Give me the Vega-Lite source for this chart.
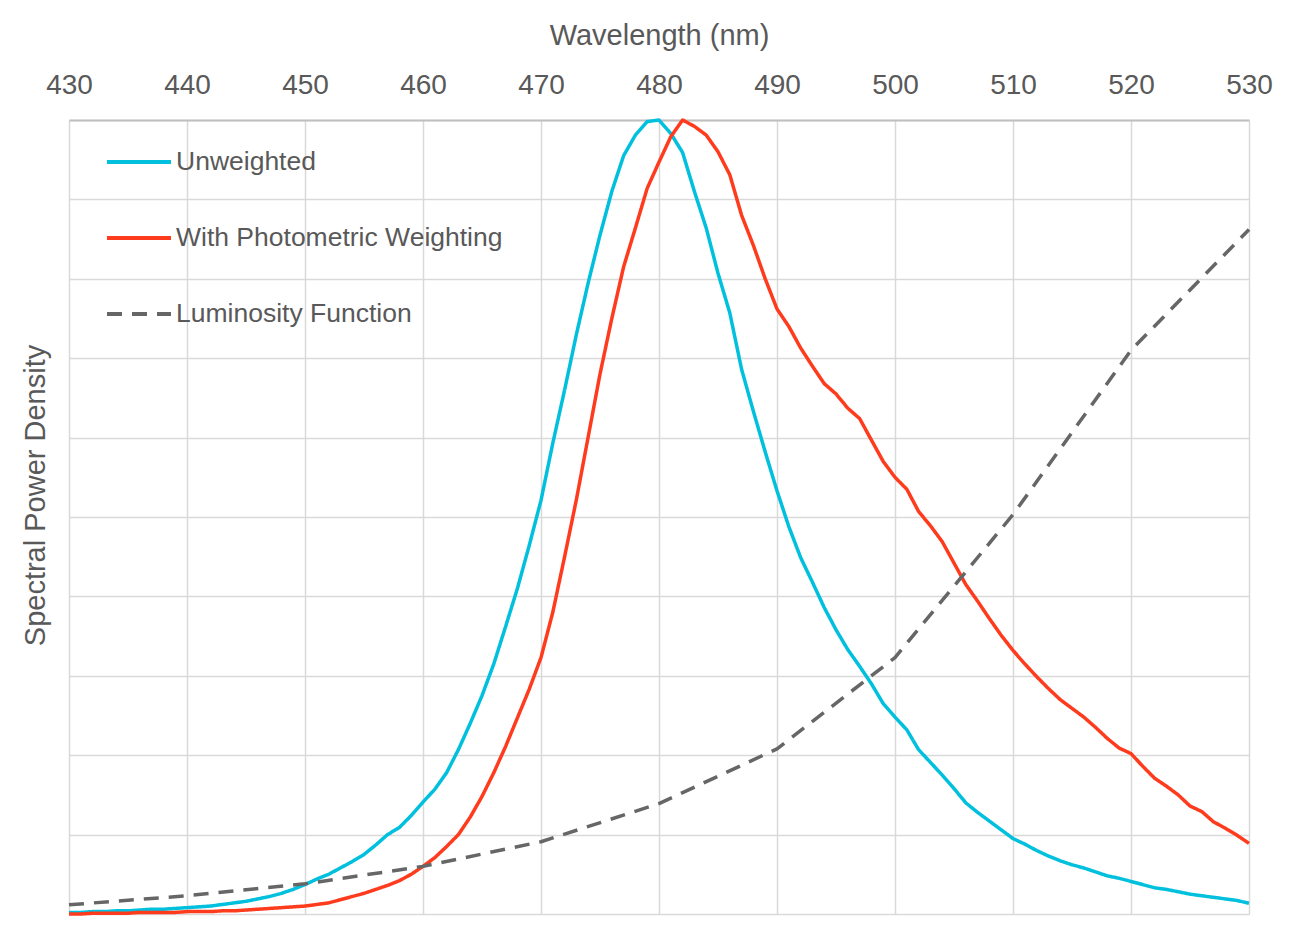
{
  "$schema": "https://vega.github.io/schema/vega-lite/v6.json",
  "width": 1180,
  "height": 794,
  "autosize": {"type": "none"},
  "padding": {"left": 69, "top": 120, "right": 44, "bottom": 19},
  "background": "white",
  "config": {
    "view": {"stroke": null},
    "font": "Liberation Sans",
    "axis": {
      "labelFont": "Liberation Sans",
      "titleFont": "Liberation Sans",
      "labelColor": "#595959",
      "titleColor": "#595959",
      "titleFontWeight": "normal",
      "gridColor": "#d9d9d9",
      "gridWidth": 1.5
    },
    "legend": {
      "labelFont": "Liberation Sans",
      "labelFontSize": 26.5,
      "labelColor": "#595959",
      "labelLimit": 0,
      "symbolType": "stroke",
      "symbolSize": 4096,
      "symbolStrokeWidth": 4,
      "labelOffset": 3,
      "rowPadding": 28,
      "padding": 0
    }
  },
  "datasets": {
    "spectra": [
      {"wl":430,"Unweighted":0.002,"With Photometric Weighting":0.000},
      {"wl":431,"Unweighted":0.002,"With Photometric Weighting":0.000},
      {"wl":432,"Unweighted":0.003,"With Photometric Weighting":0.001},
      {"wl":433,"Unweighted":0.003,"With Photometric Weighting":0.001},
      {"wl":434,"Unweighted":0.004,"With Photometric Weighting":0.001},
      {"wl":435,"Unweighted":0.004,"With Photometric Weighting":0.001},
      {"wl":436,"Unweighted":0.005,"With Photometric Weighting":0.002},
      {"wl":437,"Unweighted":0.006,"With Photometric Weighting":0.002},
      {"wl":438,"Unweighted":0.006,"With Photometric Weighting":0.002},
      {"wl":439,"Unweighted":0.007,"With Photometric Weighting":0.002},
      {"wl":440,"Unweighted":0.008,"With Photometric Weighting":0.003},
      {"wl":441,"Unweighted":0.009,"With Photometric Weighting":0.003},
      {"wl":442,"Unweighted":0.010,"With Photometric Weighting":0.003},
      {"wl":443,"Unweighted":0.012,"With Photometric Weighting":0.004},
      {"wl":444,"Unweighted":0.014,"With Photometric Weighting":0.004},
      {"wl":445,"Unweighted":0.016,"With Photometric Weighting":0.005},
      {"wl":446,"Unweighted":0.019,"With Photometric Weighting":0.006},
      {"wl":447,"Unweighted":0.022,"With Photometric Weighting":0.007},
      {"wl":448,"Unweighted":0.026,"With Photometric Weighting":0.008},
      {"wl":449,"Unweighted":0.031,"With Photometric Weighting":0.009},
      {"wl":450,"Unweighted":0.037,"With Photometric Weighting":0.010},
      {"wl":451,"Unweighted":0.044,"With Photometric Weighting":0.012},
      {"wl":452,"Unweighted":0.050,"With Photometric Weighting":0.014},
      {"wl":453,"Unweighted":0.058,"With Photometric Weighting":0.018},
      {"wl":454,"Unweighted":0.066,"With Photometric Weighting":0.022},
      {"wl":455,"Unweighted":0.075,"With Photometric Weighting":0.026},
      {"wl":456,"Unweighted":0.087,"With Photometric Weighting":0.031},
      {"wl":457,"Unweighted":0.100,"With Photometric Weighting":0.036},
      {"wl":458,"Unweighted":0.109,"With Photometric Weighting":0.042},
      {"wl":459,"Unweighted":0.124,"With Photometric Weighting":0.050},
      {"wl":460,"Unweighted":0.141,"With Photometric Weighting":0.060},
      {"wl":461,"Unweighted":0.157,"With Photometric Weighting":0.071},
      {"wl":462,"Unweighted":0.178,"With Photometric Weighting":0.085},
      {"wl":463,"Unweighted":0.207,"With Photometric Weighting":0.100},
      {"wl":464,"Unweighted":0.240,"With Photometric Weighting":0.122},
      {"wl":465,"Unweighted":0.275,"With Photometric Weighting":0.148},
      {"wl":466,"Unweighted":0.315,"With Photometric Weighting":0.178},
      {"wl":467,"Unweighted":0.362,"With Photometric Weighting":0.211},
      {"wl":468,"Unweighted":0.410,"With Photometric Weighting":0.247},
      {"wl":469,"Unweighted":0.464,"With Photometric Weighting":0.283},
      {"wl":470,"Unweighted":0.521,"With Photometric Weighting":0.323},
      {"wl":471,"Unweighted":0.593,"With Photometric Weighting":0.380},
      {"wl":472,"Unweighted":0.660,"With Photometric Weighting":0.450},
      {"wl":473,"Unweighted":0.730,"With Photometric Weighting":0.522},
      {"wl":474,"Unweighted":0.795,"With Photometric Weighting":0.601},
      {"wl":475,"Unweighted":0.855,"With Photometric Weighting":0.680},
      {"wl":476,"Unweighted":0.910,"With Photometric Weighting":0.750},
      {"wl":477,"Unweighted":0.955,"With Photometric Weighting":0.815},
      {"wl":478,"Unweighted":0.981,"With Photometric Weighting":0.864},
      {"wl":479,"Unweighted":0.998,"With Photometric Weighting":0.914},
      {"wl":480,"Unweighted":1.000,"With Photometric Weighting":0.947},
      {"wl":481,"Unweighted":0.983,"With Photometric Weighting":0.979},
      {"wl":482,"Unweighted":0.959,"With Photometric Weighting":1.000},
      {"wl":483,"Unweighted":0.910,"With Photometric Weighting":0.992},
      {"wl":484,"Unweighted":0.864,"With Photometric Weighting":0.981},
      {"wl":485,"Unweighted":0.807,"With Photometric Weighting":0.960},
      {"wl":486,"Unweighted":0.757,"With Photometric Weighting":0.931},
      {"wl":487,"Unweighted":0.686,"With Photometric Weighting":0.880},
      {"wl":488,"Unweighted":0.633,"With Photometric Weighting":0.842},
      {"wl":489,"Unweighted":0.582,"With Photometric Weighting":0.800},
      {"wl":490,"Unweighted":0.533,"With Photometric Weighting":0.762},
      {"wl":491,"Unweighted":0.488,"With Photometric Weighting":0.740},
      {"wl":492,"Unweighted":0.449,"With Photometric Weighting":0.713},
      {"wl":493,"Unweighted":0.418,"With Photometric Weighting":0.690},
      {"wl":494,"Unweighted":0.386,"With Photometric Weighting":0.668},
      {"wl":495,"Unweighted":0.358,"With Photometric Weighting":0.655},
      {"wl":496,"Unweighted":0.333,"With Photometric Weighting":0.637},
      {"wl":497,"Unweighted":0.312,"With Photometric Weighting":0.624},
      {"wl":498,"Unweighted":0.290,"With Photometric Weighting":0.597},
      {"wl":499,"Unweighted":0.265,"With Photometric Weighting":0.570},
      {"wl":500,"Unweighted":0.248,"With Photometric Weighting":0.550},
      {"wl":501,"Unweighted":0.232,"With Photometric Weighting":0.535},
      {"wl":502,"Unweighted":0.207,"With Photometric Weighting":0.507},
      {"wl":503,"Unweighted":0.191,"With Photometric Weighting":0.489},
      {"wl":504,"Unweighted":0.175,"With Photometric Weighting":0.469},
      {"wl":505,"Unweighted":0.158,"With Photometric Weighting":0.442},
      {"wl":506,"Unweighted":0.140,"With Photometric Weighting":0.415},
      {"wl":507,"Unweighted":0.128,"With Photometric Weighting":0.394},
      {"wl":508,"Unweighted":0.117,"With Photometric Weighting":0.372},
      {"wl":509,"Unweighted":0.106,"With Photometric Weighting":0.351},
      {"wl":510,"Unweighted":0.095,"With Photometric Weighting":0.332},
      {"wl":511,"Unweighted":0.088,"With Photometric Weighting":0.315},
      {"wl":512,"Unweighted":0.080,"With Photometric Weighting":0.299},
      {"wl":513,"Unweighted":0.073,"With Photometric Weighting":0.284},
      {"wl":514,"Unweighted":0.067,"With Photometric Weighting":0.270},
      {"wl":515,"Unweighted":0.062,"With Photometric Weighting":0.259},
      {"wl":516,"Unweighted":0.058,"With Photometric Weighting":0.248},
      {"wl":517,"Unweighted":0.053,"With Photometric Weighting":0.235},
      {"wl":518,"Unweighted":0.048,"With Photometric Weighting":0.221},
      {"wl":519,"Unweighted":0.045,"With Photometric Weighting":0.209},
      {"wl":520,"Unweighted":0.041,"With Photometric Weighting":0.202},
      {"wl":521,"Unweighted":0.037,"With Photometric Weighting":0.186},
      {"wl":522,"Unweighted":0.033,"With Photometric Weighting":0.171},
      {"wl":523,"Unweighted":0.031,"With Photometric Weighting":0.161},
      {"wl":524,"Unweighted":0.028,"With Photometric Weighting":0.150},
      {"wl":525,"Unweighted":0.025,"With Photometric Weighting":0.136},
      {"wl":526,"Unweighted":0.023,"With Photometric Weighting":0.129},
      {"wl":527,"Unweighted":0.021,"With Photometric Weighting":0.116},
      {"wl":528,"Unweighted":0.019,"With Photometric Weighting":0.108},
      {"wl":529,"Unweighted":0.017,"With Photometric Weighting":0.099},
      {"wl":530,"Unweighted":0.0135,"With Photometric Weighting":0.089}
    ],
    "luminosity": [
      {"wl":430,"series":"Luminosity Function","value":0.0116},
      {"wl":440,"series":"Luminosity Function","value":0.023},
      {"wl":450,"series":"Luminosity Function","value":0.038},
      {"wl":460,"series":"Luminosity Function","value":0.060},
      {"wl":470,"series":"Luminosity Function","value":0.091},
      {"wl":480,"series":"Luminosity Function","value":0.139},
      {"wl":490,"series":"Luminosity Function","value":0.208},
      {"wl":500,"series":"Luminosity Function","value":0.323},
      {"wl":510,"series":"Luminosity Function","value":0.503},
      {"wl":520,"series":"Luminosity Function","value":0.710},
      {"wl":530,"series":"Luminosity Function","value":0.862}
    ]
  },
  "encoding": {
    "x": {
      "field": "wl",
      "type": "quantitative",
      "scale": {"domain": [430, 530], "nice": false, "zero": false},
      "axis": {
        "orient": "top",
        "title": "Wavelength (nm)",
        "titleFontSize": 29,
        "titlePadding": 21,
        "labelFontSize": 28,
        "labelPadding": 21,
        "labelFlush": false,
        "labelOverlap": false,
        "values": [430, 440, 450, 460, 470, 480, 490, 500, 510, 520, 530],
        "ticks": false,
        "domain": true,
        "domainColor": "#bfbfbf",
        "domainWidth": 2
      }
    },
    "y": {
      "field": "value",
      "type": "quantitative",
      "scale": {"domain": [0, 1], "nice": false},
      "axis": {
        "title": "Spectral Power Density",
        "titleFontSize": 29,
        "titlePadding": 19,
        "titleY": 375,
        "labels": false,
        "ticks": false,
        "domain": false,
        "values": [0, 0.1, 0.2, 0.3, 0.4, 0.5, 0.6, 0.7, 0.8, 0.9, 1]
      }
    },
    "color": {
      "field": "series",
      "type": "nominal",
      "scale": {
        "domain": ["Unweighted", "With Photometric Weighting", "Luminosity Function"],
        "range": ["#00c0de", "#ff3b1e", "#666666"]
      },
      "legend": {"title": null, "orient": "none", "legendX": 36, "legendY": 8}
    },
    "strokeDash": {
      "field": "series",
      "type": "nominal",
      "scale": {
        "domain": ["Unweighted", "With Photometric Weighting", "Luminosity Function"],
        "range": [[1, 0], [1, 0], [15, 10]]
      },
      "legend": {"title": null, "orient": "none", "legendX": 36, "legendY": 8}
    }
  },
  "layer": [
    {
      "data": {"name": "spectra"},
      "transform": [
        {"fold": ["Unweighted", "With Photometric Weighting"], "as": ["series", "value"]}
      ],
      "mark": {"type": "line", "strokeWidth": 3.5, "strokeJoin": "round"}
    },
    {
      "data": {"name": "luminosity"},
      "mark": {"type": "line", "strokeWidth": 3.5, "strokeJoin": "round"}
    }
  ]
}
